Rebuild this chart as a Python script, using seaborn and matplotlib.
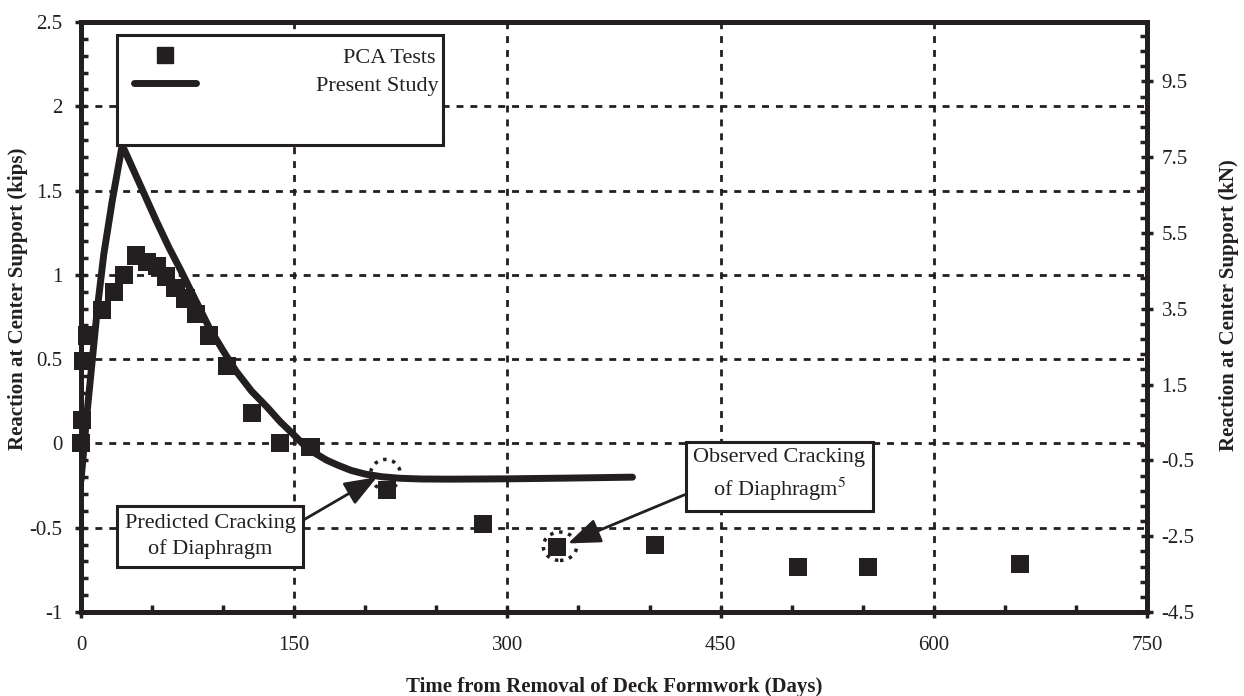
import numpy as np
import seaborn as sns
import matplotlib.pyplot as plt
from matplotlib.patches import Rectangle, Ellipse
from matplotlib.lines import Line2D
from matplotlib.ticker import MultipleLocator, FixedLocator, FuncFormatter

# PCA test readings (days, kips)
pca_days = [0, 1, 1.5, 4, 14.5, 23, 30, 38.5, 46.5, 53.5, 59.5, 66.5, 73.5, 81,
            90, 103, 120.5, 140, 161.5, 215.5, 283, 335, 404, 504.5, 554, 660.5]
pca_kips = [0.0, 0.14, 0.49, 0.64, 0.79, 0.90, 1.00, 1.115, 1.075, 1.055, 0.99,
            0.92, 0.86, 0.77, 0.64, 0.46, 0.18, 0.0, -0.02, -0.275, -0.476,
            -0.615, -0.605, -0.733, -0.733, -0.714]

# Present study prediction
study_days = [0, 4, 8, 11.5, 16, 22, 29, 37, 45, 53, 62, 70, 80, 90, 100, 109,
              120, 131, 140, 149, 157, 165, 173, 181, 190, 200, 212, 225, 240,
              260, 300, 340, 388]
study_kips = [-0.22, 0.16, 0.50, 0.80, 1.12, 1.44, 1.77, 1.62, 1.47, 1.32, 1.16,
              1.03, 0.86, 0.69, 0.55, 0.43, 0.31, 0.215, 0.13, 0.057, -0.01,
              -0.06, -0.10, -0.13, -0.16, -0.182, -0.198, -0.207, -0.211,
              -0.212, -0.21, -0.206, -0.20]

legend_labels = ['PCA Tests', 'Present Study']
predicted_note = 'Predicted Cracking\nof Diaphragm'
observed_note = 'Observed Cracking\nof Diaphragm$^5$'

sns.set_style('white')
plt.rcParams['font.family'] = ['Liberation Serif', 'DejaVu Serif']
plt.rcParams['mathtext.fontset'] = 'stix'
plt.rcParams['axes.unicode_minus'] = False

ink = '#231f20'
fig = plt.figure(figsize=(12.44, 6.96), dpi=100)
ax = fig.add_axes([81 / 1244, 1 - 612 / 696, 1066 / 1244, 590 / 696])

sns.lineplot(x=study_days, y=study_kips, ax=ax, color=ink, lw=5,
             solid_capstyle='round', solid_joinstyle='round', sort=False,
             estimator=None, zorder=3)
sns.scatterplot(x=pca_days, y=pca_kips, ax=ax, marker='s', s=170, color=ink,
                edgecolor='none', zorder=4, clip_on=False)

ax.set_xlim(0, 750)
ax.set_ylim(-1, 2.5)
ax.xaxis.set_major_locator(MultipleLocator(150))
ax.xaxis.set_minor_locator(MultipleLocator(50))
ax.yaxis.set_major_locator(MultipleLocator(0.5))
ax.yaxis.set_minor_locator(MultipleLocator(0.1))
fmt = FuncFormatter(lambda v, p: '{:g}'.format(round(v, 2)))
ax.xaxis.set_major_formatter(fmt)
ax.yaxis.set_major_formatter(fmt)
ax.grid(True, which='major', color=ink, lw=2, linestyle=(0, (2.5, 2.5)))
ax.tick_params(which='major', direction='inout', length=9, width=2.5,
               color=ink, labelsize=15, labelcolor=ink, left=True, bottom=True)
ax.tick_params(axis='x', which='major', pad=13)
ax.tick_params(axis='y', which='major', pad=9)
ax.tick_params(which='minor', direction='in', length=5, width=2.5, color=ink,
               left=True, bottom=True)
for sp in ax.spines.values():
    sp.set_linewidth(3.5)
    sp.set_color(ink)

ax.set_xlabel('Time from Removal of Deck Formwork (Days)', fontsize=15,
              fontweight='bold', color=ink)
ax.xaxis.set_label_coords(0.5, -0.11)
ax.set_ylabel('Reaction at Center Support (kips)', fontsize=15,
              fontweight='bold', color=ink)
ax.yaxis.set_label_coords(-0.05, 0.53)

# kN axis on the right
ax2 = ax.twinx()
ax2.set_ylim(-4.5, -4.5 + 3.5 * 4.448)
ax2.yaxis.set_major_locator(FixedLocator(np.arange(-4.5, 10, 2)))
ax2.yaxis.set_minor_locator(FixedLocator(np.arange(-4.5, 11.2, 0.4)))
ax2.yaxis.set_major_formatter(fmt)
ax2.tick_params(which='major', direction='inout', length=9, width=2.5,
                color=ink, labelsize=15, labelcolor=ink, right=True, pad=6)
ax2.tick_params(which='minor', direction='in', length=5, width=2.5, color=ink,
                right=True)
for sp in ax2.spines.values():
    sp.set_linewidth(3.5)
    sp.set_color(ink)
ax2.grid(False)
ax2.set_ylabel('Reaction at Center Support (kN)', fontsize=15,
               fontweight='bold', color=ink)
ax2.yaxis.set_label_coords(1.068, 0.52)

# legend box
ax.add_patch(Rectangle((0.0338, 0.7915), 0.306, 0.1865, transform=ax.transAxes,
                       fc='white', ec=ink, lw=2.2, zorder=6))
handles = [Line2D([], [], marker='s', ls='none', color=ink, markersize=12),
           Line2D([], [], color=ink, lw=5)]
leg = ax.legend(handles, legend_labels, loc='upper left',
                bbox_to_anchor=(0.0497, 0.957), frameon=False, fontsize=16,
                handlelength=2.8, handletextpad=5.4, labelspacing=0.35,
                borderpad=0, borderaxespad=0, labelcolor=ink)
leg.set_zorder(7)
# push the shorter label right so both labels end at the same edge
rows = leg._legend_handle_box.get_children()[0].get_children()
rows[0].sep += 19.6

# dotted rings around cracking points
ax.add_patch(Ellipse((214.2, -0.184), 21.1, 0.178, fill=False, ec=ink,
                     ls=':', lw=2.5, zorder=2.6))
ax.add_patch(Ellipse((337, -0.61), 23.5, 0.168, fill=False, ec=ink,
                     ls=':', lw=2.5, zorder=5))

box = dict(boxstyle='square,pad=0.35', fc='white', ec=ink, lw=2.2)
arrow = '-|>,head_length=1.0,head_width=0.38'
ax.annotate(predicted_note, xy=(208.3, -0.20), xytext=(90.8, -0.552),
            ha='center', va='center', fontsize=16, color=ink, bbox=box,
            linespacing=1.45,
            arrowprops=dict(arrowstyle=arrow, color=ink, lw=2,
                            mutation_scale=20, relpos=(1.0, 0.76),
                            shrinkA=0, shrinkB=0),
            zorder=6)
ax.annotate(observed_note, xy=(342.6, -0.593), xytext=(491.4, -0.19),
            ha='center', va='center', fontsize=16, color=ink, bbox=box,
            linespacing=1.45,
            arrowprops=dict(arrowstyle=arrow, color=ink, lw=2,
                            mutation_scale=20, relpos=(0.0, 0.22),
                            shrinkA=0, shrinkB=0),
            zorder=6)

fig.savefig('out.png', dpi=100)
